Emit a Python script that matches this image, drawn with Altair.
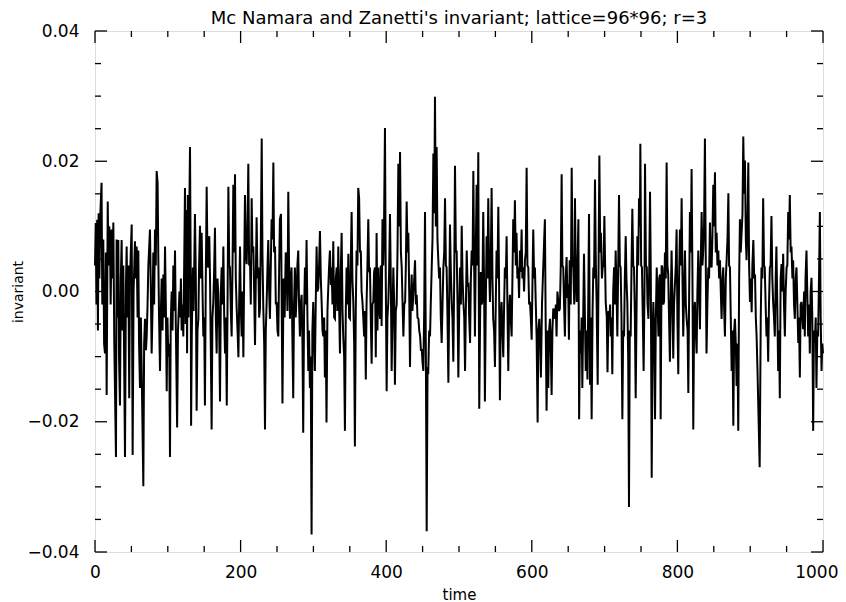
import altair as alt
import pandas as pd

TITLE = "Mc Namara and Zanetti's invariant; lattice=96*96; r=3"

# (time, invariant) readings, segment by segment
seg_a = [(0,0.004),(1,0.0105),(2,-0.002),(3,0.011),(4,-0.006),(5,0.012),(6,0.002),(7.5,0.0125),(9,0.0167),(10,-0.002),
 (11.4,0.008),(12.5,-0.008),(13.7,-0.0095),(15,0.006),(16,-0.0159),(17.5,0.0138),(18.5,0.004),(19.5,0.010),(20.6,0.0085),(21.5,-0.002),
 (22.9,0.0095),(24,0.002),(25.2,0.0106),(26.5,-0.008),(28.8,-0.0254),(29.7,0.008),(31,-0.004),(32,0.0079),(33,-0.010),(34.3,-0.0175),
 (35.5,0.002),(36.6,0.0079),(37.8,-0.006),(38.9,0.004),(41.2,-0.0254),(42.5,0.001),(43.5,0.0069),(44.5,-0.004),(45.8,0.004),(47,-0.0164),
 (48,0.002),(50.4,0.0103),(51.7,-0.0251),(53,0.0),(54.9,0.0077),(56,0.002),(57.2,0.0069),(58.5,-0.004),(59.5,0.0063),(60.5,-0.008),
 (61.8,-0.0148),(63,-0.004),(64.1,-0.012),(66.4,-0.0299),(67.5,-0.008),(68.7,-0.0042),(70,-0.009),(71,-0.0069),(72.2,-0.002),(73.3,0.004),
 (75.5,0.0095),(76.5,0.002),(77.8,-0.0095),(79,-0.003),(80.1,0.006),(81.2,-0.002),(82.4,0.0095),(83.5,0.004),(84.7,0.0185),(86,0.0167),
 (87,0.005),(88,-0.004),(89.3,-0.0122),(90.5,-0.003),(91.6,0.002),(92.8,-0.006),(93.9,0.0026),(95,-0.004),(96.2,0.0069),(97.3,-0.002),
 (98.5,-0.0153),(99.5,-0.004),(100.7,-0.010),(102,-0.008),(103,-0.0254),(104,-0.005),(105.3,0.0),(106.5,-0.006),(107.6,0.004),(108.8,-0.003),
 (109.9,0.0063),(111,-0.005),(112.8,-0.0209),(114,-0.006),(116,0.0),(116.8,-0.004),(118,0.002),(119,-0.006),(120.2,-0.002),(121.3,-0.0069),
 (122.5,0.004),(123.6,0.0159)]

seg_b = [(124.5,-0.005),(125.5,0.0125),(126.5,-0.0095),(127.5,0.0148),(128.5,-0.004),(129.5,0.012),(130.5,0.0222),(131.5,0.003),(132,-0.0206),(133,-0.006),
 (134.5,0.0037),(135.5,-0.003),(137.3,0.0119),(138.5,0.002),(139.6,-0.0183),(140.8,-0.006),(142,-0.0042),(143,0.004),(144.2,0.0101),(145.3,0.002),
 (146.5,0.009),(148,-0.002),(148.8,-0.0069),(150,-0.004),(151,-0.0175),(152.2,0.002),(153.4,0.0161),(154.6,0.004),(155.7,0.0037),(157,0.0085),
 (158,0.002),(159,-0.008),(160.2,-0.0212),(161.3,-0.004),(162.5,-0.0016),(163.6,0.003),(164.8,0.0098),(166,-0.004),(167.1,-0.0095),(168.3,0.002),
 (169.4,-0.0005),(170.6,-0.006),(171.7,-0.0169),(172.9,0.0),(174,0.0037),(175.2,-0.002),(176.3,0.0069),(177.5,-0.004),(178.6,-0.0095),(179.8,-0.004),
 (181,-0.0175),(182,-0.003),(183.2,0.0161),(184.4,0.004),(185.4,0.0037),(186.6,-0.003),(187.7,-0.0069),(189,0.005),(190,0.0164),(191.2,0.006),
 (192.3,0.018),(193.4,0.002),(194.6,-0.0026),(195.8,-0.006),(197,-0.0101),(198,-0.002),(199.2,0.0069),(200.4,-0.003),(201.5,-0.0069),(202.6,0.0),
 (203.8,-0.0101),(205,0.004),(206,0.0148),(207.2,0.006),(208.3,0.0042),(209.5,0.010),(210.6,0.0196),(211.7,0.004),(212.9,0.0048),(214,-0.002),
 (215.2,0.0143),(216.3,0.006),(217.5,0.0069),(218.6,0.0),(219.8,-0.0082),(221,0.003),(222,0.0114),(223.2,0.002),(224.4,0.0037),(225.5,-0.004),
 (226.6,-0.0026),(227.8,0.008),(229,0.0235),(230,0.006),(231.2,-0.0026),(232.4,-0.008),(233.5,-0.0212),(234.6,-0.006),(235.8,-0.0016),(237,0.004),
 (238,0.0079),(239.2,0.0),(240.3,-0.0042),(241.5,0.004),(242.6,0.0111),(243.8,0.008),(245,0.0198),(246,0.006),(247.3,0.0069),(248.4,-0.002),
 (249.5,-0.0016),(250.7,-0.006),(251.8,-0.0069),(253,0.004),(254,0.0111),(255.5,0.0119),(257.5,-0.0172),(259,0.002)]

seg_c = [(260.5,-0.004),(262,0.006),(263.2,0.0037),(264.3,-0.003),(265.5,0.0153),(266.6,0.004),(267.8,-0.0042),(269,0.002),(270,0.0037),(271,-0.006),
 (272.3,-0.0164),(273.4,-0.002),(274.6,0.0037),(275.7,-0.004),(276.9,-0.0005),(278,0.004),(279.2,0.0063),(280.3,-0.002),(281.5,-0.0069),(282.6,-0.002),
 (283.8,-0.0005),(285,-0.008),(286,-0.0217),(287.2,-0.003),(288.4,0.0037),(289.5,-0.002),(290.6,0.0079),(291.8,-0.004),(293,-0.0122),(294,-0.006),
 (295.2,-0.0148),(296.3,-0.010),(297.5,-0.0373),(298.6,-0.006),(299.8,-0.0016),(301,-0.008),(302,-0.0122),(303.2,-0.002),(304.4,0.0069),(305.5,0.0),
 (306.7,0.0005),(307.8,0.004),(309,0.0093),(310.2,0.002),(311.3,-0.0016),(312.5,-0.006),(313.6,-0.0069),(314.8,-0.004),(315.8,-0.0132),(317,-0.006),
 (318,-0.0201),(319.3,-0.003),(320.4,0.0005),(321.6,0.004),(322.7,0.0063),(324,0.001),(325,0.0037),(326.2,-0.002),(327.3,0.0077),(328.5,-0.004),
 (329.6,-0.0042),(330.8,0.002),(332,0.0037),(333,-0.003),(334.2,0.0069),(335.3,-0.002),(336.5,-0.0095),(337.6,0.003),(338.8,0.009),(340,-0.003),
 (341,-0.0069),(342.2,-0.010),(343.3,-0.0214),(344.5,-0.003),(345.6,0.0037),(346.8,-0.002),(348,0.0058),(349,-0.004),(350.2,-0.0042),(351.3,0.004),
 (352.5,0.0122),(353.6,0.002),(354.8,-0.0016),(356,-0.008),(357,-0.0238),(358.2,-0.003),(359.3,0.0063),(360.5,0.004),(361.6,0.0159),(362.8,0.0143),
 (364,0.006),(365.1,0.0063),(366.2,0.0),(367.4,-0.0016),(368.5,-0.004),(369.7,-0.0069),(370.8,-0.003),(372,-0.0135),(373,-0.002),(374.2,0.004),
 (375.4,0.0111),(376.5,0.003),(377.7,0.0037),(378.8,-0.004),(380,-0.0111),(381,-0.002),(382.3,-0.0016),(383.4,0.003),(384.6,0.0037)]

seg_d = [(385.7,-0.0101),(386.8,0.009),(388,-0.006),(389.2,0.0037),(390.3,-0.002),(391.5,-0.0042),(392.6,0.004),(393.7,-0.0053),(394.9,0.0111),(396,0.004),
 (397,0.010),(398.3,0.0251),(399.4,0.002),(400.6,-0.0153),(401.7,-0.004),(402.9,-0.0016),(404,0.003),(405.2,0.0119),(406.3,0.002),(407.5,-0.0122),
 (408.6,-0.004),(409.8,0.0037),(411,-0.002),(412,-0.0143),(413.2,-0.003),(414.4,-0.002),(415.5,0.006),(416.7,0.0196),(417.8,0.010),(419,0.0214),
 (420.2,0.006),(421.3,0.0037),(422.5,-0.002),(423.6,-0.0069),(424.8,-0.002),(426,-0.0016),(427,0.004),(428.1,0.0138),(429.3,0.006),(430.4,0.009),
 (431.6,0.0),(432.7,-0.0116),(433.8,-0.002),(435,0.0026),(436,-0.003),(437.3,-0.0005),(438.5,0.002),(439.6,0.0048),(440.8,-0.002),(441.9,-0.0005),
 (443,-0.004),(444.3,-0.0042),(445.4,-0.006),(446.6,-0.0069),(447.7,-0.009),(448.9,-0.009),(450,-0.011),(451,-0.0122),(452.2,-0.003),(453.3,0.0122),
 (454.5,-0.010),(455.6,-0.0368),(456.8,-0.012),(457.8,-0.0122),(459,-0.006),(460.2,-0.0069),(461.2,-0.002),(462.5,0.0037),(463.6,0.008),(464.8,0.0212),
 (466,0.012),(467,0.0299),(468.2,0.010),(469.3,0.0222),(470.4,0.008),(471.6,0.0048),(472.7,0.002),(473.9,0.0037),(475,-0.004),(476.2,-0.0079),
 (477.4,-0.002),(478.5,0.0037),(479.7,0.006),(480.8,0.0143),(482,0.004),(483,0.0037),(484.2,-0.004),(485.4,-0.014),(486.5,-0.002),(487.6,0.0103),
 (488.8,0.003),(490,-0.0016),(491,-0.004),(492.2,-0.0108),(493.4,0.002),(494.5,0.0193),(495.7,0.006),(496.8,0.0063),(498,-0.002),(499.1,-0.0132),
 (500.3,-0.003),(501.4,0.0037),(502.6,-0.002),(503.7,0.0101),(504.9,0.002),(506,-0.0016),(507.2,-0.004),(508.3,-0.0122),(509.5,-0.002),(510.6,0.0063),
 (511.8,0.001),(513,0.0011),(514,-0.004),(515.2,-0.0079),(516.3,0.002),(517.4,0.0063),(518.6,0.004),(519.7,0.0185)]

seg_e = [(520.8,0.004),(521.9,-0.0069),(523,0.006),(524.2,0.0164),(525.3,0.004),(526.5,0.0214),(527.8,-0.018),(529,-0.004),(530,0.003),(531,-0.002),
 (532,-0.0016),(533.3,0.0122),(534.4,0.002),(535.6,-0.0169),(536.7,-0.003),(537.9,0.0085),(539,0.002),(540.2,0.0143),(541.3,0.004),(542.5,-0.0016),
 (543.6,0.004),(544.8,0.0159),(546,0.002),(547,-0.0042),(548.2,-0.006),(549.4,-0.0116),(550.5,-0.002),(551.6,0.0063),(552.8,0.002),(554,0.013),
 (555,0.002),(556.2,-0.0167),(557.3,-0.004),(558.5,-0.0016),(559.6,-0.006),(560.8,-0.0101),(562,-0.002),(563,0.0037),(564.3,0.002),(565.4,0.0085),
 (566.5,-0.002),(567.7,-0.0122),(568.8,-0.003),(570,-0.0005),(571,-0.004),(572.3,-0.0069),(573.4,0.002),(574.5,0.0111),(575.7,0.006),(576.8,0.014),
 (578,0.004),(579,0.009),(580.2,0.002),(581.4,0.0037),(582.5,-0.001),(583.7,0.0063),(584.8,0.003),(586,0.0095),(587,0.002),(588.3,0.0037),
 (589.4,0.0),(590.6,0.0048),(591.7,0.006),(592.9,0.019),(594,0.004),(595.2,0.0037),(596.3,-0.002),(597.5,-0.0016),(598.6,-0.004),(599.8,-0.0074),
 (601,0.002),(602,0.0095),(603.2,0.002),(604.3,0.0037),(605.5,-0.002),(606.6,-0.0069),(608,-0.0201),(609,-0.006),(610.3,-0.0042),(611.5,-0.008),
 (612.5,-0.0132),(614,-0.002),(615.7,0.0037),(617,0.008),(618,0.0111),(619,-0.004),(620.3,-0.0183),(621.5,-0.006),(622.6,-0.0148),(623.8,-0.006),
 (625,-0.0042),(626,-0.008),(627.2,-0.0159),(628.3,-0.006),(629.5,-0.0026),(630.6,-0.003),(631.8,-0.0042),(633,-0.002),(634,-0.0069),(635.2,0.0),
 (636.4,-0.0016),(637.5,-0.003),(638.6,-0.0026),(639.8,0.004),(641,0.018),(642,0.004),(643.2,0.0037),(644.3,-0.002),(645.5,-0.0069),(646.6,0.002),
 (647.8,0.0053),(649,-0.001),(650,0.0011)]

seg_f = [(651,-0.0074),(652,0.0048),(653.5,-0.002),(654.8,0.019),(656,0.004),(657,0.0037),(658.3,-0.002),(659.3,0.0143),(660.5,0.002),(661.6,-0.0016),
 (662.8,0.004),(664,0.0111),(665,-0.0196),(666.2,-0.006),(667.3,-0.0095),(668.5,-0.004),(669.4,-0.0148),(670.6,-0.004),(671.7,0.0058),(673,-0.004),
 (674.1,-0.0122),(675,-0.006),(676.5,-0.0135),(677.5,-0.002),(678.6,0.0119),(680,-0.0143),(681,-0.004),(682.2,-0.0196),(683.5,-0.003),(684.5,0.0037),
 (685.5,0.002),(686.8,0.0172),(688,0.004),(689,-0.0016),(690.5,-0.0143),(691.6,0.002),(692.8,0.0209),(694,0.006),(695,0.009),(696.3,0.002),
 (697.4,0.0037),(698.6,0.004),(699.7,0.0116),(701,0.002),(701.5,-0.0016),(703,-0.004),(704,-0.0124),(705.3,-0.003),(706.5,-0.0042),(707.6,-0.002),
 (708.3,-0.0069),(709.5,-0.004),(710.6,-0.0127),(711.8,0.0),(713,0.0037),(714,-0.002),(715.2,0.0063),(716.4,0.0),(717.5,-0.0069),(718.6,0.003),
 (719.8,0.0148),(721,0.004),(722,0.0037),(723.2,-0.004),(724.4,-0.0196),(725.5,-0.006),(726.7,-0.0069),(727.8,0.002),(729,0.0085),(730,0.002),
 (731.2,-0.0016),(732.4,-0.010),(733.5,-0.0331),(734.6,-0.006),(735.8,-0.0069),(737,0.004),(738.1,0.0127),(739.3,0.004),(740.4,0.0037),(741.6,-0.004),
 (742.7,-0.0164),(744,-0.002),(745,0.0085),(746.2,0.004),(747.3,0.0143),(748.5,0.010),(749.1,0.0227),(750.2,0.004),(751.3,0.0037),(752.5,-0.004),
 (753.6,-0.0122),(754.8,0.0),(755.5,0.0196),(756.8,0.004),(758,0.0037),(759,-0.002),(760.2,-0.0042),(761.4,0.004),(762.4,0.0153),(763.5,0.002),
 (764.7,-0.0286),(766,-0.006),(767,-0.0016),(768,-0.006),(769.3,-0.0196),(770.4,-0.004),(771.6,0.0037),(772.8,-0.002),(774,-0.0069),(775,0.002),
 (776.2,0.0026)]

seg_g = [(777,-0.0196),(778.3,0.004),(779.4,0.0037),(780.6,-0.002),(781.6,-0.0016),(782.9,0.006),(784,0.002),(785.2,0.0198),(786.3,0.004),(787.4,0.0026),
 (788.5,-0.004),(789.7,-0.0108),(790.8,-0.002),(792,0.0063),(793,0.0),(794.3,-0.0103),(795.4,-0.002),(796.6,0.0011),(797.8,0.004),(798.9,0.0095),
 (800,-0.004),(801.2,-0.0127),(802.3,0.002),(803.5,0.0095),(804.7,0.004),(805.8,0.0143),(807,0.002),(808,-0.0069),(809.3,0.0),(810.4,0.0063),
 (811.6,-0.002),(812.7,-0.0042),(814,-0.006),(815,-0.0156),(816,-0.002),(817.2,0.0122),(818.4,0.006),(819.5,0.0188),(820.7,0.002),(821.8,-0.0212),
 (823,-0.004),(824,-0.0016),(825.2,-0.006),(826.4,-0.0095),(827.5,0.0),(828.7,0.0063),(829.8,0.0),(831,-0.0058),(832,0.004),(833.3,0.0122),
 (834.4,0.004),(835.5,0.0063),(836.6,0.010),(837.8,0.0235),(839,0.004),(840,-0.0095),(841.2,-0.002),(842.4,0.0037),(843.5,0.002),(844.7,0.0106),
 (845.8,0.004),(847,0.0037),(848,0.008),(849.3,0.0164),(850.5,0.010),(851.6,0.0183),(852.7,0.006),(853.9,0.009),(855,0.004),(856.2,0.0063),
 (857.3,0.002),(858.5,0.0048),(859.6,0.0),(860.7,-0.0042),(862,0.002),(863,0.0037),(864,-0.002),(865.3,-0.0069),(866.5,0.002),(867.6,0.0048),
 (868.8,0.008),(870,0.0151),(871,0.004),(872.2,0.0037),(873.3,-0.004),(874.5,-0.0122),(875.6,-0.006),(876.8,-0.0206),(878,-0.006),(879,-0.0042),
 (880.2,-0.008),(881.3,-0.0145),(882.5,-0.008),(883.6,-0.0214),(884.8,0.002),(885.9,0.0111),(887,0.006),(888.2,0.009),(889.4,0.012),(890.5,0.0238),
 (891.7,0.015),(892.8,0.0201),(894,0.008),(895,0.0048),(896.2,0.010),(897.4,0.0198),(898.5,0.004),(899.7,-0.0016),(900.9,0.002),(902,-0.0032),
 (903,0.004),(904.3,0.0079),(905.5,0.002),(906.6,0.0026),(907.7,-0.004),(908.8,-0.0069),(910,-0.012)]

seg_h = [(913,-0.027),(914.5,-0.004),(915.5,0.0037),(916.7,0.002),(917.8,0.0143),(919,0.004),(920,0.0037),(921.2,-0.002),(922.4,-0.0069),(923.5,-0.004),
 (924.7,-0.0108),(925.8,-0.002),(927,0.0037),(928,0.004),(929.2,0.0116),(930.4,0.002),(931.5,-0.0016),(932.7,-0.004),(933.8,-0.0069),(935,0.002),
 (936,0.0069),(937.2,-0.002),(938.4,-0.0122),(939.5,-0.006),(940.7,-0.0164),(941.8,0.002),(943,0.0042),(944.2,0.0),(945.3,0.0058),(946.4,-0.002),
 (947.6,-0.0069),(948.7,0.0),(950,0.0037),(951,0.004),(952.2,0.0122),(953.3,0.008),(954.4,0.0148),(955.6,0.006),(956.7,0.0069),(958,0.002),
 (959,0.0048),(960.2,-0.002),(961.3,-0.0042),(962.5,0.002),(963.6,0.0037),(964.8,-0.002),(966,-0.0079),(967,-0.004),(968.2,-0.0132),(969.3,-0.002),
 (970.4,-0.0016),(971.6,-0.004),(972.7,-0.0058),(974,0.0),(975,-0.0069),(976,0.002),(977.3,0.0063),(978.4,0.0),(979.6,-0.0069),(980.7,-0.002),
 (981.9,-0.0095),(983,0.0),(984.2,0.0021),(985.3,-0.004),(986.5,-0.0214),(987.6,-0.006),(988.8,-0.0079),(990,-0.004),(991,-0.0148),(992.2,-0.006),
 (993.3,-0.0069),(994.5,0.002),(995.7,0.0122),(996.8,-0.004),(998,-0.0122),(999,-0.008),(1000,-0.0095)]

segments = [seg_a, seg_b, seg_c, seg_d, seg_e, seg_f, seg_g, seg_h]
times = [p[0] for s in segments for p in s]
values = [p[1] for s in segments for p in s]

x_labels = [0, 200, 400, 600, 800, 1000]
x_minor = [50, 100, 150, 250, 300, 350, 450, 500, 550, 650, 700, 750, 850, 900, 950]
y_labels = [-0.04, -0.02, 0.0, 0.02, 0.04]
y_minor = [-0.035, -0.03, -0.025, -0.015, -0.01, -0.005, 0.005, 0.01, 0.015, 0.025, 0.03, 0.035]

W, H = 728, 521
MAJ, MIN = 12, 6
FONT = "DejaVu Sans"

df = pd.DataFrame({"time": times, "invariant": values})
xs = alt.Scale(domain=[0, 1000], nice=False, zero=False)
ys = alt.Scale(domain=[-0.04, 0.04], nice=False, zero=False)

x_axis = alt.Axis(values=x_labels, format="d", title="time", ticks=False, domain=False, grid=False,
                  labelFlush=False, labelOverlap=False,
                  labelAlign=alt.condition("datum.value == 1000", alt.value("right"), alt.value("center")),
                  labelOffset=alt.condition("datum.value == 1000", alt.value(15), alt.value(0)),
                  labelFontSize=17, labelPadding=12, labelFont=FONT, labelColor="black",
                  titleFont=FONT, titleFontSize=15, titleFontWeight="normal", titleColor="black",
                  titleY=42, titleBaseline="middle")
y_axis = alt.Axis(values=y_labels, format=".2f", title="invariant", ticks=False, domain=False, grid=False,
                  labelFlush=False, labelOverlap=False,
                  labelFontSize=17, labelPadding=16, labelFont=FONT, labelColor="black",
                  titleFont=FONT, titleFontSize=14, titleFontWeight="normal", titleColor="black",
                  titleX=-77, titleBaseline="middle")

line = alt.Chart(df).mark_line(color="black", strokeWidth=2.0).encode(
    x=alt.X("time:Q", scale=xs, axis=x_axis, title="time"),
    y=alt.Y("invariant:Q", scale=ys, axis=y_axis, title="invariant"),
)


def xticks(vals, length):
    d = pd.DataFrame({"time": vals})
    out = []
    for y0, y1 in ((H, H - length), (0, length)):
        out.append(alt.Chart(d).mark_rule(color="black", strokeWidth=1.3).encode(
            x=alt.X("time:Q", scale=xs, axis=x_axis, title="time"),
            y=alt.value(y0), y2=alt.value(y1)))
    return out


def yticks(vals, length):
    d = pd.DataFrame({"invariant": vals})
    out = []
    for x0, x1 in ((0, length), (W, W - length)):
        out.append(alt.Chart(d).mark_rule(color="black", strokeWidth=1.3).encode(
            y=alt.Y("invariant:Q", scale=ys, axis=y_axis, title="invariant"),
            x=alt.value(x0), x2=alt.value(x1)))
    return out


layers = [line] + xticks(x_labels, MAJ) + xticks(x_minor, MIN) + yticks(y_labels, MAJ) + yticks(y_minor, MIN)

chart = alt.layer(*layers).properties(
    width=W, height=H,
    title=alt.TitleParams(text=TITLE, font=FONT, fontSize=18, fontWeight="normal", color="black",
                          anchor="middle", offset=3, dy=9),
    autosize=alt.AutoSizeParams(type="none"),
    padding={"left": 87, "top": 23, "right": 15, "bottom": 50},
).configure_view(stroke="black", strokeWidth=1.5).configure(background="white")

chart.save("out.html", embed_options={"renderer": "svg", "actions": False})
